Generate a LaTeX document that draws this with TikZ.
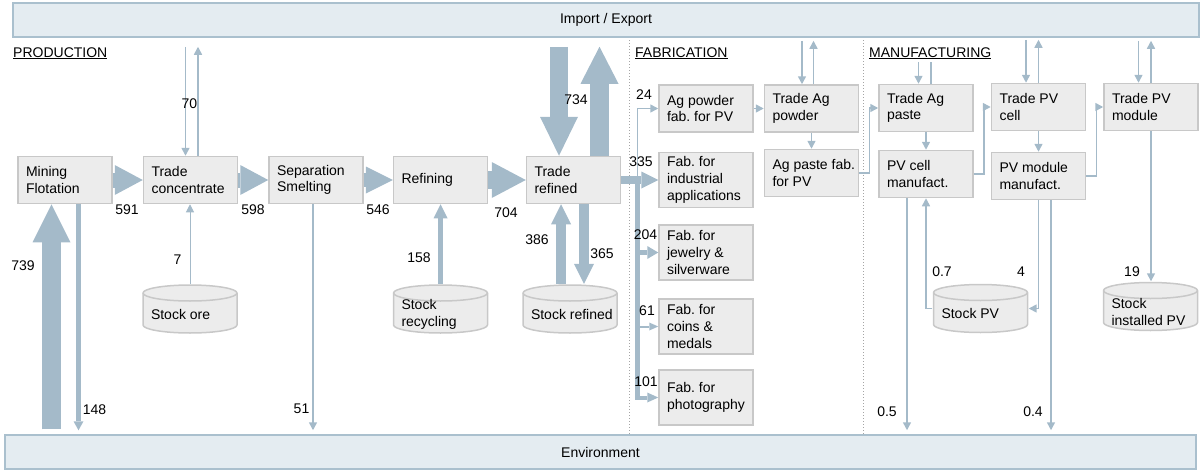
\documentclass[tikz,border=0pt]{standalone}
\usepackage{fontspec}
\setmainfont{Liberation Sans}
\usetikzlibrary{arrows.meta,calc}

\definecolor{flowc}{RGB}{164,186,201}
\definecolor{boxline}{RGB}{200,200,200}
\definecolor{boxfill}{RGB}{236,236,236}
\definecolor{bandline}{RGB}{170,192,206}
\definecolor{bandfill}{RGB}{228,236,241}
\definecolor{dotc}{RGB}{165,165,165}

\begin{document}
\begin{tikzpicture}[
  x=1pt, y=-1pt,
  every node/.style={font=\fontsize{14}{16.7}\selectfont\frenchspacing},
  box/.style={draw=boxline, line width=1.5pt, fill=boxfill, minimum width=94pt,
    minimum height=47pt, text width=78pt, inner xsep=8pt, inner ysep=3pt, align=flush left},
  fabbox/.style={box, minimum height=55pt},
  stock/.style={minimum width=96pt, minimum height=50pt, text width=78pt,
    inner xsep=9pt, align=flush left, execute at begin node={\rule{0pt}{20.5pt}},
    path picture={
      \draw[draw=boxline, line width=1.5pt, fill=boxfill]
        ([xshift=1pt, yshift=-9pt]path picture bounding box.north west)
        arc[start angle=180, end angle=0, x radius=47pt, y radius=8pt]
        -- ([xshift=-1pt, yshift=9pt]path picture bounding box.south east)
        arc[start angle=0, end angle=-180, x radius=47pt, y radius=8pt]
        -- cycle;
      \draw[draw=boxline, line width=1.5pt]
        ([xshift=1pt, yshift=-9pt]path picture bounding box.north west)
        arc[start angle=180, end angle=360, x radius=47pt, y radius=8pt];
    }},
  band/.style={draw=bandline, line width=1.5pt, fill=bandfill, minimum height=34pt},
  section/.style={anchor=base west, inner sep=0pt},
  lbl/.style={inner sep=0pt},
  divider/.style={draw=dotc, dotted, line width=1pt},
  flow/.style={draw=flowc, line width=1.5pt, -{Triangle[length=8pt,width=8pt]}},
  fat/.style n args={3}{draw=flowc, line width=#1,
    -{Triangle[length=#2, width=#3, line width=0pt]}}
]
\useasboundingbox (0,0) rectangle (1200,471);

% outer bands
\node[band, minimum width=1186pt] (imp) at (606,20) {Import / Export};
\node[band, minimum width=1191pt] (env) at (600.5,452) {Environment};

% sections
\node[section] (prodlbl) at (13,57) {\underline{PRODUCTION}};
\node[section] (fablbl) at (635,57) {\underline{FABRICATION}};
\node[section] (manlbl) at (869,57) {\underline{MANUFACTURING}};
\draw[divider] (629,40) -- (629,435);
\draw[divider] (863,40) -- (863,435);

% production
\node[box] (mining) at (65,180) {Mining\\Flotation};
\node[box] (tradec) at (190.5,180) {Trade\\concentrate};
\node[box] (sepsm) at (316,180) {Separation\\Smelting};
\node[box] (refin) at (440.5,180) {Refining};
\node[box] (trefined) at (573.5,180) {Trade\\refined};
\node[stock] (stockore) at (190,309) {Stock ore};
\node[stock] (stockrec) at (440.5,309) {Stock\\recycling};
\node[stock] (stockref) at (570,309) {\mbox{Stock refined}};

% fabrication
\node[box] (agpowfab) at (706,108.5) {Ag powder\\fab. for PV};
\node[fabbox] (fabind) at (706,180) {Fab. for\\industrial\\applications};
\node[fabbox] (fabjew) at (706,252.5) {Fab. for\\jewelry \&\\silverware};
\node[fabbox] (fabcoin) at (706,326.5) {Fab. for\\coins \&\\medals};
\node[fabbox] (fabphoto) at (706,397.5) {Fab. for\\photography};
\node[box] (tagpow) at (811.5,108.5) {Trade Ag\\powder};
\node[box] (agpaste) at (811.5,173) {\mbox{Ag paste fab.}\\for PV};

% manufacturing
\node[box] (tagpaste) at (926,108) {Trade Ag\\paste};
\node[box] (pvcell) at (926,174) {PV cell\\manufact.};
\node[box] (tpvcell) at (1038.5,107) {Trade PV\\cell};
\node[box] (pvmod) at (1038.5,176) {PV module\\manufact.};
\node[box] (tpvmod) at (1151,107) {Trade PV\\module};
\node[stock] (stockpv) at (980.5,308.5) {Stock PV};
\node[stock] (stockinst) at (1150.5,306.5) {Stock\\installed PV};

% production flows
\draw[fat={15pt}{28pt}{30pt}] (mining) -- (tradec);
\draw[fat={15pt}{28pt}{30pt}] (tradec) -- (sepsm);
\draw[fat={14pt}{27pt}{27pt}] (sepsm) -- (refin);
\draw[fat={18pt}{34pt}{36pt}] (refin) -- (trefined);
\draw[fat={19pt}{38pt}{38pt}] ($(mining.south |- env.north)+(-13.5,-5)$) -- ($(mining.south)+(-13.5,0)$);
\draw[fat={5pt}{9pt}{10pt}] ($(mining.south)+(13.5,0)$) -- ($(mining.south |- env.north)+(13.5,-4)$);
\draw[flow] ($(tradec.north |- imp.south)+(-5,9)$) -- ($(tradec.north)+(-5,0)$);
\draw[flow] ($(tradec.north)+(7.5,0)$) -- ($(tradec.north |- imp.south)+(7.5,9)$);
\draw[flow, line width=1pt] (stockore.north) -- (stockore.north |- tradec.south);
\draw[flow] ($(sepsm.south)+(-3,0)$) -- ($(sepsm.south |- env.north)+(-3,-4)$);
\draw[fat={5pt}{14pt}{14pt}] (stockrec.north) -- (stockrec.north |- refin.south);
\draw[fat={18pt}{39pt}{38pt}] ($(trefined.north |- imp.south)+(-14.5,9)$) -- ($(trefined.north)+(-14.5,0)$);
\draw[fat={19pt}{37pt}{38pt}] ($(trefined.north)+(26,0)$) -- ($(trefined.north |- imp.south)+(26,9)$);
\draw[fat={10pt}{20pt}{20pt}] ($(trefined.south |- stockref.north)+(-12.5,0)$) -- ($(trefined.south)+(-12.5,0)$);
\draw[fat={10pt}{20pt}{20pt}] ($(trefined.south)+(10.5,0)$) -- ($(trefined.south |- stockref.north)+(10.5,0)$);

% fabrication flows
\coordinate (bus) at ($(trefined.east)+(16,0)$);
\draw[fat={8pt}{17pt}{17pt}] (trefined) -- (fabind);
\draw[flowc, line width=5pt] (bus) -- ($(bus |- fabphoto)+(0,2)$);
\draw[fat={5pt}{11pt}{13pt}] (bus |- fabjew) -- (fabjew);
\draw[fat={2pt}{9pt}{8pt}] (bus |- fabcoin) -- (fabcoin);
\draw[fat={4pt}{11pt}{10pt}] (bus |- fabphoto) -- (fabphoto);
\draw[flow] (bus) |- (agpowfab);
\draw[flow] (agpowfab) -- (tagpow);
\draw[flow] ($(tagpow.north |- imp.south)+(-9.5,3)$) -- ($(tagpow.north)+(-9.5,0)$);
\draw[flow] ($(tagpow.north)+(2,0)$) -- ($(tagpow.north |- imp.south)+(2,3)$);
\draw[flow] (tagpow) -- (agpaste);
\draw[flow] (agpaste.east) -- ++(10,0) |- (tagpaste.west);

% manufacturing flows
\draw[flow] ($(tagpaste.north)+(-7.5,-22)$) -- ($(tagpaste.north)+(-7.5,0)$);
\draw[flow, -] ($(tagpaste.north)+(5,0)$) -- ($(tagpaste.north)+(5,-22)$);
\draw[flow] (tagpaste) -- (pvcell);
\draw[flow] (pvcell.east) -- ++(10,0) |- (tpvcell.west);
\draw[flow] ($(tpvcell.north |- imp.south)+(-12.5,2)$) -- ($(tpvcell.north)+(-12.5,0)$);
\draw[flow] (tpvcell.north) -- ($(tpvcell.north |- imp.south)+(0,2)$);
\draw[flow] (tpvcell) -- (pvmod);
\draw[flow] (pvmod.east) -- ++(10,0) |- (tpvmod.west);
\draw[flow] ($(tpvmod.north |- imp.south)+(-12.5,3)$) -- ($(tpvmod.north)+(-12.5,0)$);
\draw[flow] (tpvmod.north) -- ($(tpvmod.north |- imp.south)+(0,3)$);
\draw[flow] (tpvmod.south) -- (tpvmod.south |- stockinst.north);
\draw[flow] ($(pvcell.south)+(-19,0)$) -- ($(pvcell.south |- env.north)+(-19,-4)$);
\draw[flow] (stockpv.west) -| (pvcell.south);
\draw[flow] (pvmod.south) |- (stockpv.east);
\draw[flow] ($(pvmod.south)+(12.5,0)$) -- ($(pvmod.south |- env.north)+(12.5,-4)$);

% flow values
\node[lbl] (v739) at (23,266) {739};
\node[lbl] (v148) at (94.5,410) {148};
\node[lbl] (v591) at (127,210) {591};
\node[lbl] (v70) at (189.5,103.5) {70};
\node[lbl] (v7) at (177.5,259.5) {7};
\node[lbl] (v598) at (253,210) {598};
\node[lbl] (v51) at (301.5,408.5) {51};
\node[lbl] (v546) at (378,210) {546};
\node[lbl] (v158) at (419,258) {158};
\node[lbl] (v704) at (506,213) {704};
\node[lbl] (v734) at (576,100) {734};
\node[lbl] (v386) at (537,240) {386};
\node[lbl] (v365) at (602,254) {365};
\node[lbl] (v24) at (644,95) {24};
\node[lbl] (v335) at (641,162) {335};
\node[lbl] (v204) at (645.5,235) {204};
\node[lbl] (v61) at (647,311) {61};
\node[lbl] (v101) at (646,382) {101};
\node[lbl] (v07) at (942,272) {0.7};
\node[lbl] (v4) at (1021,272) {4};
\node[lbl] (v19) at (1132,272) {19};
\node[lbl] (v05) at (887,412) {0.5};
\node[lbl] (v04) at (1033,412) {0.4};
\end{tikzpicture}
\end{document}
